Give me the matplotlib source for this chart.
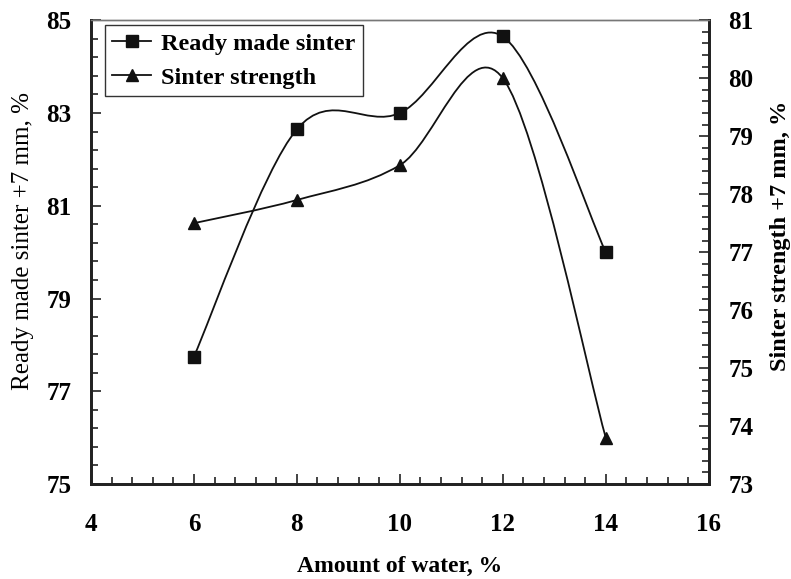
import matplotlib
matplotlib.use("Agg")
import matplotlib.pyplot as plt
from matplotlib.path import Path
from matplotlib.patches import PathPatch
from matplotlib.lines import Line2D
from matplotlib.ticker import MultipleLocator

water = [6, 8, 10, 12, 14]
ready_made = [77.75, 82.65, 83.0, 84.65, 80.0]
strength = [77.5, 77.9, 78.5, 80.0, 73.8]

plt.rcParams["font.family"] = "Liberation Serif"
plt.rcParams["font.weight"] = "bold"


def smooth_path(xs, ys):
    """Excel-like smoothed line: Catmull-Rom as cubic Bezier segments."""
    pts = list(zip(xs, ys))
    n = len(pts)
    verts = [pts[0]]
    codes = [Path.MOVETO]
    for i in range(n - 1):
        p0 = pts[max(i - 1, 0)]
        p1 = pts[i]
        p2 = pts[i + 1]
        p3 = pts[min(i + 2, n - 1)]
        c1 = (p1[0] + (p2[0] - p0[0]) / 6, p1[1] + (p2[1] - p0[1]) / 6)
        c2 = (p2[0] - (p3[0] - p1[0]) / 6, p2[1] - (p3[1] - p1[1]) / 6)
        verts += [c1, c2, p2]
        codes += [Path.CURVE4] * 3
    return Path(verts, codes)


fig = plt.figure(figsize=(7.91, 5.79), dpi=100)
ax = fig.add_axes([0.115, 0.164, 0.781, 0.801])
ax2 = ax.twinx()

lw = 1.3
ax.add_patch(PathPatch(smooth_path(water, ready_made), fill=False, lw=lw, color="#111111"))
ax.plot(water, ready_made, ls="none", marker="s", ms=9, color="#111111")
ax2.add_patch(PathPatch(smooth_path(water, strength), fill=False, lw=lw, color="#111111"))
ax2.plot(water, strength, ls="none", marker="^", ms=9, color="#111111")

ax.set_xlim(4, 16)
ax.set_ylim(75, 85)
ax2.set_ylim(73, 81)
ax.xaxis.set_major_locator(MultipleLocator(2))
ax.xaxis.set_minor_locator(MultipleLocator(0.4))
ax.yaxis.set_major_locator(MultipleLocator(2, offset=1))
ax.yaxis.set_minor_locator(MultipleLocator(0.4, offset=0.2))
ax2.yaxis.set_major_locator(MultipleLocator(1))
ax2.yaxis.set_minor_locator(MultipleLocator(0.2))

for a in (ax, ax2):
    a.tick_params(which="both", direction="in", labelsize=18, width=1.2, color="#222222", pad=14)
    a.tick_params(which="major", length=7)
    a.tick_params(which="minor", length=5)
    for s in ("left", "bottom", "right"):
        a.spines[s].set_linewidth(2)
        a.spines[s].set_color("#222222")
    a.spines["top"].set_linewidth(1)
    a.spines["top"].set_color("#777777")
ax.tick_params(axis="x", pad=21)

ax.set_xlabel("Amount of water, %", fontsize=17, fontweight="bold", labelpad=14)
ax.set_ylabel("Ready made sinter +7 mm, %", fontsize=18, fontweight="normal", labelpad=9)
ax2.set_ylabel("Sinter strength +7 mm, %", fontsize=17.5, fontweight="bold", labelpad=12)
ax.yaxis.label.set_y(0.524)
ax2.yaxis.label.set_y(0.535)

handles = [
    Line2D([], [], color="#111111", lw=lw, marker="s", ms=9),
    Line2D([], [], color="#111111", lw=lw, marker="^", ms=9),
]
leg = ax2.legend(handles, ["Ready made sinter", "Sinter strength"], loc="upper left",
                 bbox_to_anchor=(0.023, 0.989), fontsize=17.5, fancybox=False, framealpha=1,
                 edgecolor="#333333", handlelength=1.6, handletextpad=0.4,
                 borderpad=0.3, labelspacing=0.5, borderaxespad=0)
leg.get_frame().set_linewidth(1)

fig.savefig("out.png", dpi=100)
